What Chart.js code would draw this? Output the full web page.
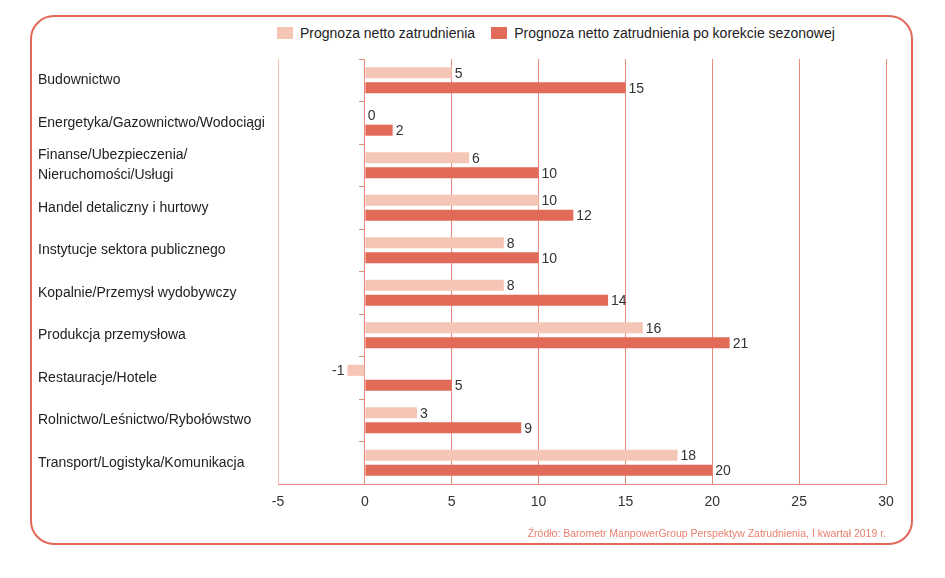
<!DOCTYPE html>
<html lang="pl">
<head>
<meta charset="utf-8">
<script src="https://cdn.jsdelivr.net/npm/chart.js@4.4.1/dist/chart.umd.min.js"></script>
<style>
  html, body { margin: 0; padding: 0; background: #fff; }
  body { width: 945px; height: 578px; position: relative; overflow: hidden; font-family: "Liberation Sans", Arial, sans-serif; }
  .frame { position: absolute; left: 30px; top: 15px; width: 879px; height: 526px; border: 2.5px solid #e4685a; border-radius: 24px; }
  .legend { position: absolute; left: 277px; top: 25px; display: flex; align-items: center; font-size: 14px; color: #222; }
  .legend span.box { display: inline-block; width: 16px; height: 12px; margin-right: 7px; }
  .legend .item { display: flex; align-items: center; margin-right: 16px; }
  .source { position: absolute; right: 59px; top: 527px; font-size: 10.5px; color: #e8806f; }
  #wrap { position: absolute; left: 0; top: 0; width: 945px; height: 578px; }
</style>
</head>
<body>
<div class="frame"></div>
<div class="legend">
  <div class="item"><span class="box" style="background:#f5c5b6"></span>Prognoza netto zatrudnienia</div>
  <div class="item"><span class="box" style="background:#e26a58"></span>Prognoza netto zatrudnienia po korekcie sezonowej</div>
</div>
<div id="wrap"><canvas id="chart"></canvas></div>
<div class="source">Źródło: Barometr ManpowerGroup Perspektyw Zatrudnienia, I kwartał 2019 r.</div>
<script>
  // kategorie (sektory)
  const sectors = [
    'Budownictwo',
    'Energetyka/Gazownictwo/Wodociągi',
    ['Finanse/Ubezpieczenia/', 'Nieruchomości/Usługi'],
    'Handel detaliczny i hurtowy',
    'Instytucje sektora publicznego',
    'Kopalnie/Przemysł wydobywczy',
    'Produkcja przemysłowa',
    'Restauracje/Hotele',
    'Rolnictwo/Leśnictwo/Rybołówstwo',
    'Transport/Logistyka/Komunikacja'
  ];

  const netForecast = [5, 0, 6, 10, 8, 8, 16, -1, 3, 18];
  const adjustedForecast = [15, 1.6, 10, 12, 10, 14, 21, 5, 9, 20];

  const xTicks = [-5, 0, 5, 10, 15, 20, 25, 30];

  const salmon = '#ea8a7b';
  const font = "'Liberation Sans', Arial, sans-serif";

  // etykiety wartości przy słupkach
  const valueLabels = {
    id: 'valueLabels',
    afterDatasetsDraw(chart) {
      const ctx = chart.ctx;
      ctx.save();
      ctx.font = '14px ' + font;
      ctx.fillStyle = '#333';
      ctx.textBaseline = 'middle';
      chart.data.datasets.forEach((ds, i) => {
        const meta = chart.getDatasetMeta(i);
        meta.data.forEach((bar, j) => {
          const v = ds.data[j];
          const txt = String(Math.round(v));
          if (v < 0) {
            ctx.textAlign = 'right';
            ctx.fillText(txt, bar.x - 3, bar.y + 1);
          } else {
            ctx.textAlign = 'left';
            ctx.fillText(txt, bar.x + 3, bar.y + 1);
          }
        });
      });
      ctx.restore();
    }
  };

  new Chart(document.getElementById('chart'), {
    type: 'bar',
    data: {
      labels: sectors,
      datasets: [
        {
          label: 'Prognoza netto zatrudnienia',
          data: netForecast,
          backgroundColor: '#f5c5b6',
          categoryPercentage: 0.7,
          barPercentage: 0.74
        },
        {
          label: 'Prognoza netto zatrudnienia po korekcie sezonowej',
          data: adjustedForecast,
          backgroundColor: '#e26a58',
          categoryPercentage: 0.7,
          barPercentage: 0.74
        }
      ]
    },
    options: {
      indexAxis: 'y',
      responsive: true,
      maintainAspectRatio: false,
      animation: false,
      layout: { padding: { left: 38, right: 59, top: 59, bottom: 64 } },
      plugins: {
        legend: { display: false },
        tooltip: { enabled: false }
      },
      scales: {
        x: {
          min: -5,
          max: 30,
          afterBuildTicks: scale => { scale.ticks = xTicks.map(v => ({ value: v })); },
          afterFit: scale => { scale.height = 30; },
          grid: {
            color: c => c.index === 0 ? '#f5bcb1' : salmon,
            lineWidth: 1,
            drawTicks: false
          },
          border: { color: salmon, width: 1 },
          ticks: { color: '#333', padding: 10, font: { family: font, size: 14 } }
        },
        y: {
          afterFit: scale => { scale.width = 240; },
          grid: { display: false },
          border: { display: false },
          ticks: {
            autoSkip: false,
            crossAlign: 'far',
            color: '#222',
            padding: 0,
            font: { family: font, size: 14, lineHeight: 1.45 }
          }
        },
        y2: {
          type: 'category',
          labels: sectors,
          position: { x: 0 },
          offset: true,
          grid: {
            offset: true,
            drawOnChartArea: false,
            drawTicks: true,
            tickLength: 5,
            color: salmon
          },
          border: { display: true, color: salmon },
          ticks: { display: false, autoSkip: false }
        }
      }
    },
    plugins: [valueLabels]
  });
</script>
</body>
</html>
